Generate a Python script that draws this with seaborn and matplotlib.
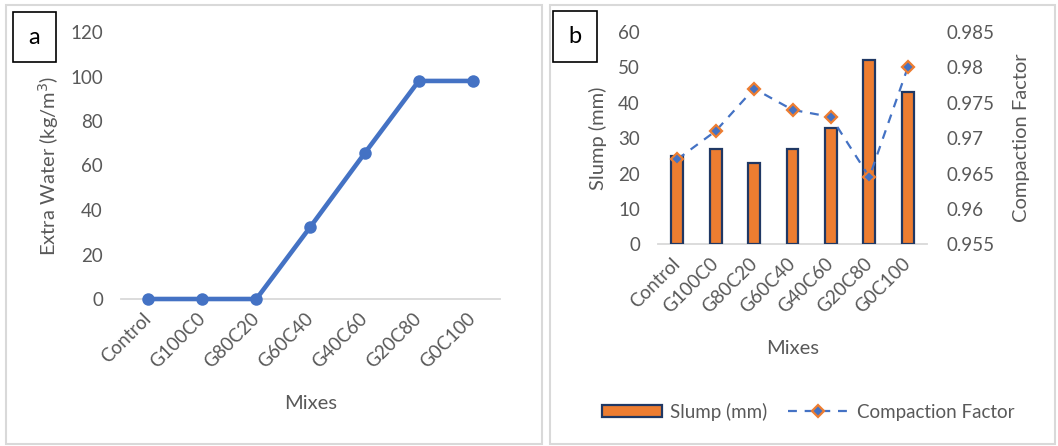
import numpy as np
import pandas as pd
import matplotlib
matplotlib.use("Agg")
import matplotlib.pyplot as plt
from matplotlib.patches import Rectangle
from matplotlib.lines import Line2D
from matplotlib.patches import Patch
import seaborn as sns

# Mix designations
mixes = ["Control", "G100C0", "G80C20", "G60C40", "G40C60", "G20C80", "G0C100"]
# (a) extra water demand, kg/m3
extra_water = [0, 0, 0, 32.5, 65.5, 98, 98]
# (b) slump, mm
slump = [25, 27, 23, 27, 33, 52, 43]
# (b) compaction factor
compaction = [0.967, 0.971, 0.977, 0.974, 0.973, 0.9645, 0.980]

sns.set_theme(style="white")
plt.rcParams["font.family"] = ["Lato", "DejaVu Sans"]

W, H = 1058, 446
fig = plt.figure(figsize=(W / 100, H / 100), dpi=100)

BLUE = "#4472C4"
ORANGE = "#ED7D31"
NAVY = "#203864"
GREY_TXT = "#595959"
AXIS_GREY = "#D9D9D9"
FS = 13.5
FS_TITLE = 14.5


def px_axes(x0, x1, y_top, y_bot):
    return fig.add_axes([x0 / W, 1 - y_bot / H, (x1 - x0) / W, (y_bot - y_top) / H])


def style_axis(ax):
    for s in ("top", "right", "left"):
        ax.spines[s].set_visible(False)
    ax.spines["bottom"].set_color(AXIS_GREY)
    ax.spines["bottom"].set_linewidth(1.3)
    ax.tick_params(axis="both", length=0, labelsize=FS, labelcolor=GREY_TXT)
    ax.tick_params(axis="y", pad=13)
    ax.tick_params(axis="x", pad=12)
    for lbl in ax.get_xticklabels():
        lbl.set_rotation(45)
        lbl.set_ha("right")
        lbl.set_va("center")
        lbl.set_rotation_mode("anchor")


def panel_frame(x0, x1, y0, y1, letter, bx0, bx1, by0, by1):
    fig.add_artist(Rectangle((x0 / W, 1 - y1 / H), (x1 - x0) / W, (y1 - y0) / H,
                             transform=fig.transFigure, fill=False,
                             edgecolor=AXIS_GREY, linewidth=1.5))
    fig.add_artist(Rectangle((bx0 / W, 1 - by1 / H), (bx1 - bx0) / W, (by1 - by0) / H,
                             transform=fig.transFigure, fill=False,
                             edgecolor="black", linewidth=1.2))
    fig.text((bx0 + bx1) / 2 / W, 1 - (by0 + by1) / 2 / H, letter,
             ha="center", va="center", fontsize=17, color="black")


# ---------- panel (a): extra water ----------
panel_frame(6, 542, 5, 444, "a", 13, 56, 12, 62)
ax_a = px_axes(121, 500, 32, 299)
sns.lineplot(x=mixes, y=extra_water, ax=ax_a, color=BLUE, linewidth=3.3,
             marker="o", markersize=9, markeredgewidth=0, sort=False, zorder=4)
ax_a.set_xlim(-0.5, len(mixes) - 0.5)
ax_a.set_ylim(0, 120)
ax_a.set_yticks(np.arange(0, 121, 20))
for ln in ax_a.lines:
    ln.set_clip_on(False)
style_axis(ax_a)
ax_a.set_xlabel("Mixes", fontsize=FS_TITLE, color=GREY_TXT)
ax_a.set_ylabel("Extra Water (kg/m$^3$)", fontsize=FS_TITLE, color=GREY_TXT)
ax_a.xaxis.set_label_coords(0.5, -0.36)
ax_a.yaxis.set_label_coords(-0.158, 0.5)

# ---------- panel (b): slump and compaction factor ----------
panel_frame(550, 1055, 5, 444, "b", 553, 597, 11, 62)
ax_b = px_axes(658, 927, 32, 244.3)
sns.barplot(x=mixes, y=slump, ax=ax_b, color=ORANGE, saturation=1, width=0.31,
            edgecolor=NAVY, linewidth=1.6, zorder=3)
ax_b.set_xlim(-0.5, len(mixes) - 0.5)
ax_b.set_ylim(0, 60)
ax_b.set_yticks(np.arange(0, 61, 10))
style_axis(ax_b)
ax_b.set_xlabel("Mixes", fontsize=FS_TITLE, color=GREY_TXT)
ax_b.set_ylabel("Slump (mm)", fontsize=FS_TITLE, color=GREY_TXT)
ax_b.xaxis.set_label_coords(0.5, -0.453)
ax_b.yaxis.set_label_coords(-0.19, 0.5)

ax_c = ax_b.twinx()
sns.lineplot(x=np.arange(len(mixes)), y=compaction, ax=ax_c, color=BLUE,
             linewidth=1.6, linestyle=(0, (4, 3.5)), marker="D", markersize=6.5,
             markerfacecolor=BLUE, markeredgecolor=ORANGE, markeredgewidth=1.6)
ax_c.set_ylim(0.955, 0.985)
ax_c.set_yticks([0.955, 0.96, 0.965, 0.97, 0.975, 0.98, 0.985])
ax_c.set_yticklabels(["0.955", "0.96", "0.965", "0.97", "0.975", "0.98", "0.985"])
for s in ("top", "right", "left", "bottom"):
    ax_c.spines[s].set_visible(False)
ax_c.tick_params(axis="y", length=0, labelsize=FS, labelcolor=GREY_TXT, pad=14)
ax_c.set_ylabel("Compaction Factor", fontsize=FS_TITLE, color=GREY_TXT)
ax_c.yaxis.set_label_coords(1.319, 0.5)
ax_c.set_xlim(-0.5, len(mixes) - 0.5)

handles = [
    Patch(facecolor=ORANGE, edgecolor=NAVY, linewidth=1.6, label="Slump (mm)"),
    Line2D([], [], color=BLUE, linewidth=1.6, linestyle=(0, (4, 3.5)), marker="D",
           markersize=6.5, markerfacecolor=BLUE, markeredgecolor=ORANGE,
           markeredgewidth=1.6, label="Compaction Factor"),
]
fig.legend(handles=handles, loc="center", bbox_to_anchor=(808 / W, 1 - 411.7 / H),
           ncol=2, frameon=False, fontsize=FS, labelcolor=GREY_TXT,
           handlelength=3.2, handleheight=0.6, handletextpad=0.45,
           columnspacing=1.1)

fig.savefig("out.png", dpi=100)
